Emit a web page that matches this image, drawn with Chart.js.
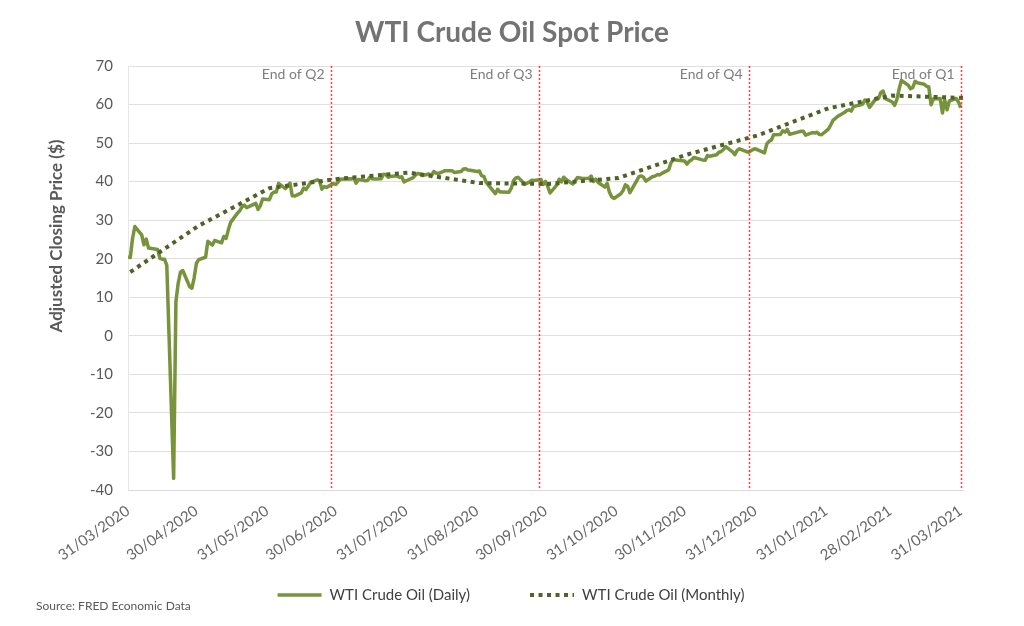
<!DOCTYPE html>
<html>
<head>
<meta charset="utf-8">
<title>WTI Crude Oil Spot Price</title>
<script src="https://cdn.jsdelivr.net/npm/chart.js@4.4.1/dist/chart.umd.min.js"></script>
<style>
  html, body { margin: 0; padding: 0; background: #fff; }
  #wrap { width: 1024px; height: 626px; }
</style>
</head>
<body>
<div id="wrap"><canvas id="chart" width="1024" height="626"></canvas></div>
<script>
// WTI spot price, daily closes (FRED) and monthly averages.

const dailyDates = [
  '2020-03-31',
  '2020-04-01','2020-04-02','2020-04-03','2020-04-06','2020-04-07','2020-04-08','2020-04-09','2020-04-13','2020-04-14','2020-04-15',
  '2020-04-16','2020-04-17','2020-04-20','2020-04-21','2020-04-22','2020-04-23','2020-04-24','2020-04-27','2020-04-28','2020-04-29','2020-04-30',
  '2020-05-01','2020-05-04','2020-05-05','2020-05-06','2020-05-07','2020-05-08','2020-05-11','2020-05-12','2020-05-13','2020-05-14',
  '2020-05-15','2020-05-18','2020-05-19','2020-05-20','2020-05-21','2020-05-22','2020-05-26','2020-05-27','2020-05-28','2020-05-29',
  '2020-06-01','2020-06-02','2020-06-03','2020-06-04','2020-06-05','2020-06-08','2020-06-09','2020-06-10','2020-06-11','2020-06-12',
  '2020-06-15','2020-06-16','2020-06-17','2020-06-18','2020-06-19','2020-06-22','2020-06-23','2020-06-24','2020-06-25','2020-06-26','2020-06-29','2020-06-30',
  '2020-07-01','2020-07-02','2020-07-06','2020-07-07','2020-07-08','2020-07-09','2020-07-10','2020-07-13','2020-07-14','2020-07-15','2020-07-16',
  '2020-07-17','2020-07-20','2020-07-21','2020-07-22','2020-07-23','2020-07-24','2020-07-27','2020-07-28','2020-07-29','2020-07-30','2020-07-31',
  '2020-08-03','2020-08-04','2020-08-05','2020-08-06','2020-08-07','2020-08-10','2020-08-11','2020-08-12','2020-08-13','2020-08-14','2020-08-17',
  '2020-08-18','2020-08-19','2020-08-20','2020-08-21','2020-08-24','2020-08-25','2020-08-26','2020-08-27','2020-08-28','2020-08-31',
  '2020-09-01','2020-09-02','2020-09-03','2020-09-04','2020-09-08','2020-09-09','2020-09-10','2020-09-11','2020-09-14','2020-09-15','2020-09-16',
  '2020-09-17','2020-09-18','2020-09-21','2020-09-22','2020-09-23','2020-09-24','2020-09-25','2020-09-28','2020-09-29','2020-09-30',
  '2020-10-01','2020-10-02','2020-10-05','2020-10-06','2020-10-07','2020-10-08','2020-10-09','2020-10-12','2020-10-13','2020-10-14','2020-10-15',
  '2020-10-16','2020-10-19','2020-10-20','2020-10-21','2020-10-22','2020-10-23','2020-10-26','2020-10-27','2020-10-28','2020-10-29','2020-10-30',
  '2020-11-02','2020-11-03','2020-11-04','2020-11-05','2020-11-06','2020-11-09','2020-11-10','2020-11-11','2020-11-12','2020-11-13','2020-11-16',
  '2020-11-17','2020-11-18','2020-11-19','2020-11-20','2020-11-23','2020-11-24','2020-11-25','2020-11-27','2020-11-30',
  '2020-12-01','2020-12-02','2020-12-03','2020-12-04','2020-12-07','2020-12-08','2020-12-09','2020-12-10','2020-12-11','2020-12-14','2020-12-15',
  '2020-12-16','2020-12-17','2020-12-18','2020-12-21','2020-12-22','2020-12-23','2020-12-24','2020-12-28','2020-12-29','2020-12-30','2020-12-31',
  '2021-01-04','2021-01-05','2021-01-06','2021-01-07','2021-01-08','2021-01-11','2021-01-12','2021-01-13','2021-01-14','2021-01-15',
  '2021-01-19','2021-01-20','2021-01-21','2021-01-22','2021-01-25','2021-01-26','2021-01-27','2021-01-28','2021-01-29',
  '2021-02-01','2021-02-02','2021-02-03','2021-02-04','2021-02-05','2021-02-08','2021-02-09','2021-02-10','2021-02-11','2021-02-12',
  '2021-02-16','2021-02-17','2021-02-18','2021-02-19','2021-02-22','2021-02-23','2021-02-24','2021-02-25','2021-02-26',
  '2021-03-01','2021-03-02','2021-03-03','2021-03-04','2021-03-05','2021-03-08','2021-03-09','2021-03-10','2021-03-11','2021-03-12','2021-03-15',
  '2021-03-16','2021-03-17','2021-03-18','2021-03-19','2021-03-22','2021-03-23','2021-03-24','2021-03-25','2021-03-26','2021-03-29','2021-03-30','2021-03-31'
];

const dailyPrices = [
  20.48,
  20.31, 25.32, 28.34, 26.21, 23.63, 25.09, 22.76, 22.41, 20.11, 19.87,
  19.87, 18.27, -36.98, 8.91, 13.64, 16.50, 16.94, 12.78, 12.34, 15.06, 18.84,
  19.78, 20.39, 24.56, 23.99, 23.55, 24.74, 24.13, 25.78, 25.29, 27.56,
  29.43, 31.82, 32.50, 33.49, 33.92, 33.25, 34.35, 32.81, 33.71, 35.49,
  35.32, 36.82, 37.29, 37.29, 39.55, 38.18, 38.91, 39.63, 36.32, 36.26,
  37.10, 38.33, 37.93, 38.82, 39.83, 40.46, 40.13, 38.03, 38.73, 38.51, 39.49, 39.27,
  39.86, 40.60, 40.73, 40.70, 40.96, 39.59, 40.58, 40.20, 40.31, 41.14, 40.73,
  40.71, 40.77, 41.92, 41.88, 41.13, 41.34, 41.54, 41.08, 41.26, 39.92, 40.22,
  41.06, 41.72, 42.16, 41.93, 41.60, 41.97, 41.53, 42.63, 42.23, 42.06, 42.85,
  42.85, 42.81, 42.84, 42.39, 42.61, 43.29, 43.35, 43.01, 42.96, 42.62,
  42.75, 41.50, 41.36, 39.81, 36.87, 38.03, 37.32, 37.32, 37.27, 38.31, 40.27,
  40.96, 41.11, 39.31, 39.61, 39.94, 40.35, 40.31, 40.55, 39.27, 40.05,
  38.70, 37.05, 39.19, 40.63, 39.91, 41.15, 40.54, 39.40, 40.20, 41.05, 40.96,
  40.88, 40.83, 41.46, 40.03, 40.64, 39.85, 38.56, 39.57, 37.33, 36.06, 35.64,
  36.85, 37.71, 39.15, 38.79, 37.14, 40.29, 41.36, 41.45, 41.12, 40.12, 41.34,
  41.43, 41.82, 41.74, 42.15, 43.06, 44.91, 45.71, 45.53, 45.34,
  44.55, 45.28, 45.64, 46.26, 45.76, 45.58, 45.52, 46.78, 46.57, 46.99, 47.62,
  47.82, 48.33, 49.10, 47.74, 47.02, 48.12, 48.52, 47.62, 48.00, 48.35, 48.52,
  47.47, 49.78, 50.45, 50.80, 52.14, 52.25, 53.20, 52.85, 53.55, 52.27,
  52.91, 53.06, 53.08, 52.05, 52.73, 52.59, 52.83, 52.26, 52.16,
  53.61, 54.70, 55.88, 56.37, 56.92, 57.92, 58.40, 58.65, 58.30, 59.46,
  60.07, 61.19, 60.68, 59.26, 61.66, 61.58, 63.15, 63.49, 61.55,
  60.66, 59.79, 61.30, 64.02, 66.28, 65.01, 64.09, 64.44, 66.02, 65.64, 65.28,
  64.75, 64.56, 59.95, 61.44, 61.54, 57.80, 61.17, 58.61, 60.92, 61.58, 60.67, 59.19
];

// Monthly averages, plotted on the first day of each month.
const monthlyDates = [
  '2020-04-01','2020-05-01','2020-06-01','2020-07-01','2020-08-01','2020-09-01','2020-10-01',
  '2020-11-01','2020-12-01','2021-01-01','2021-02-01','2021-03-01','2021-04-01'
];
const monthlyPrices = [16.55, 28.56, 38.31, 40.71, 42.34, 39.63, 39.40, 40.94, 47.02, 52.00, 59.04, 62.33, 61.72];

const tickLabels = [
  '31/03/2020','30/04/2020','31/05/2020','30/06/2020','31/07/2020','31/08/2020','30/09/2020',
  '31/10/2020','30/11/2020','31/12/2020','31/01/2021','28/02/2021','31/03/2021'
];

// Quarter markers, where they sit in the original picture.
const quarterLabels = ['End of Q2', 'End of Q3', 'End of Q4', 'End of Q1'];
const quarterLineDates = ['2020-06-28', '2020-09-27', '2020-12-28', '2021-03-31'];

const ORIGIN = Date.UTC(2020, 2, 31);
function dayOfIso(s) { const [y, m, d] = s.split('-').map(Number); return (Date.UTC(y, m - 1, d) - ORIGIN) / 86400000; }
function dayOfLabel(s) { const [d, m, y] = s.split('/').map(Number); return (Date.UTC(y, m - 1, d) - ORIGIN) / 86400000; }

const tickDays = tickLabels.map(dayOfLabel);
const dailyPoints = dailyDates.map((d, i) => ({ x: dayOfIso(d), y: dailyPrices[i] }));
const monthlyPoints = monthlyDates.map((d, i) => ({ x: dayOfIso(d), y: monthlyPrices[i] }));

const GREY = '#595959';
const FONT = 'Lato, "Open Sans", sans-serif';
Chart.defaults.font.family = FONT;
Chart.defaults.color = GREY;

// Quarter lines, y-axis title, legend and the source note.
// (The built-in legend can't put a wide gap between items without also
// padding above them, so it is drawn here from the dataset styles.)
const extras = {
  id: 'extras',
  afterDatasetsDraw(chart) {
    const { ctx, chartArea } = chart;
    const x = chart.scales.x;
    ctx.save();
    quarterLineDates.forEach((d, i) => {
      const px = Math.round(x.getPixelForValue(dayOfIso(d))) + 0.5;
      ctx.strokeStyle = 'rgba(255, 30, 30, 0.85)';
      ctx.lineWidth = 1.5;
      ctx.setLineDash([2, 2]);
      ctx.beginPath();
      ctx.moveTo(px, chartArea.top);
      ctx.lineTo(px, chartArea.bottom);
      ctx.stroke();
      ctx.setLineDash([]);
      ctx.fillStyle = '#7F7F7F';
      ctx.font = '14px ' + FONT;
      ctx.textAlign = 'right';
      ctx.textBaseline = 'middle';
      ctx.fillText(quarterLabels[i], px - 7, 74);
    });
    ctx.restore();
  },
  afterDraw(chart) {
    const { ctx } = chart;
    ctx.save();
    ctx.translate(57, 236);
    ctx.rotate(-Math.PI / 2);
    ctx.fillStyle = GREY;
    ctx.font = 'bold 17px ' + FONT;
    ctx.textAlign = 'center';
    ctx.textBaseline = 'middle';
    ctx.fillText('Adjusted Closing Price ($)', 0, 0);
    ctx.restore();

    // legend
    const SAMPLE = 44, TEXT_GAP = 8, ITEM_GAP = 60, LEGEND_Y = 595;
    ctx.save();
    ctx.font = '15px ' + FONT;
    const items = chart.data.datasets.map(ds => ({
      text: ds.label, color: ds.borderColor, width: ds.borderWidth, dash: ds.borderDash || []
    }));
    const widths = items.map(it => SAMPLE + TEXT_GAP + ctx.measureText(it.text).width);
    const total = widths.reduce((a, b) => a + b, 0) + ITEM_GAP * (items.length - 1);
    let cx = 511 - total / 2;
    items.forEach((it, i) => {
      ctx.strokeStyle = it.color;
      ctx.lineWidth = it.width;
      ctx.lineCap = 'butt';
      ctx.setLineDash(it.dash);
      ctx.beginPath();
      ctx.moveTo(cx, LEGEND_Y);
      ctx.lineTo(cx + SAMPLE, LEGEND_Y);
      ctx.stroke();
      ctx.setLineDash([]);
      ctx.fillStyle = '#404040';
      ctx.textAlign = 'left';
      ctx.textBaseline = 'middle';
      ctx.fillText(it.text, cx + SAMPLE + TEXT_GAP, LEGEND_Y);
      cx += widths[i] + ITEM_GAP;
    });
    ctx.restore();

    ctx.save();
    ctx.fillStyle = GREY;
    ctx.font = '12px ' + FONT;
    ctx.textAlign = 'left';
    ctx.textBaseline = 'middle';
    ctx.fillText('Source: FRED Economic Data', 36, 606);
    ctx.restore();
  }
};

new Chart(document.getElementById('chart'), {
  type: 'line',
  data: {
    datasets: [
      {
        label: 'WTI Crude Oil (Daily)',
        data: dailyPoints,
        borderColor: '#77933C',
        borderWidth: 3.5,
        borderJoinStyle: 'round',
        pointRadius: 0,
        tension: 0,
        order: 1
      },
      {
        label: 'WTI Crude Oil (Monthly)',
        data: monthlyPoints,
        borderColor: '#4F6228',
        borderWidth: 4,
        borderDash: [4, 4.5],
        borderCapStyle: 'butt',
        pointRadius: 0,
        tension: 0,
        order: 0
      }
    ]
  },
  options: {
    responsive: false,
    animation: false,
    layout: { padding: 0 },
    scales: {
      x: {
        type: 'linear',
        min: 0,
        max: 366,
        grid: { display: false, drawTicks: false },
        border: { color: '#D9D9D9' },
        afterBuildTicks(scale) { scale.ticks = tickDays.map(v => ({ value: v })); },
        afterFit(scale) { scale.height = 136; scale.paddingRight = 61; },
        ticks: {
          autoSkip: false,
          minRotation: 35,
          maxRotation: 35,
          padding: 12,
          color: '#666666',
          font: { size: 15 },
          callback(value) {
            const i = tickDays.indexOf(value);
            return i >= 0 ? tickLabels[i] : '';
          }
        }
      },
      y: {
        min: -40,
        max: 70,
        grid: { color: '#E0E0E0', drawTicks: false },
        border: { color: '#E6E6E6' },
        afterFit(scale) { scale.width = 128; },
        ticks: { stepSize: 10, padding: 15, color: GREY, font: { size: 15 } }
      }
    },
    plugins: {
      title: {
        display: true,
        text: 'WTI Crude Oil Spot Price',
        color: '#737373',
        font: { size: 28, weight: 'bold' },
        padding: { top: 16, bottom: 16.4 }
      },
      legend: { display: false },
      tooltip: { enabled: false }
    }
  },
  plugins: [extras]
});
</script>
</body>
</html>
